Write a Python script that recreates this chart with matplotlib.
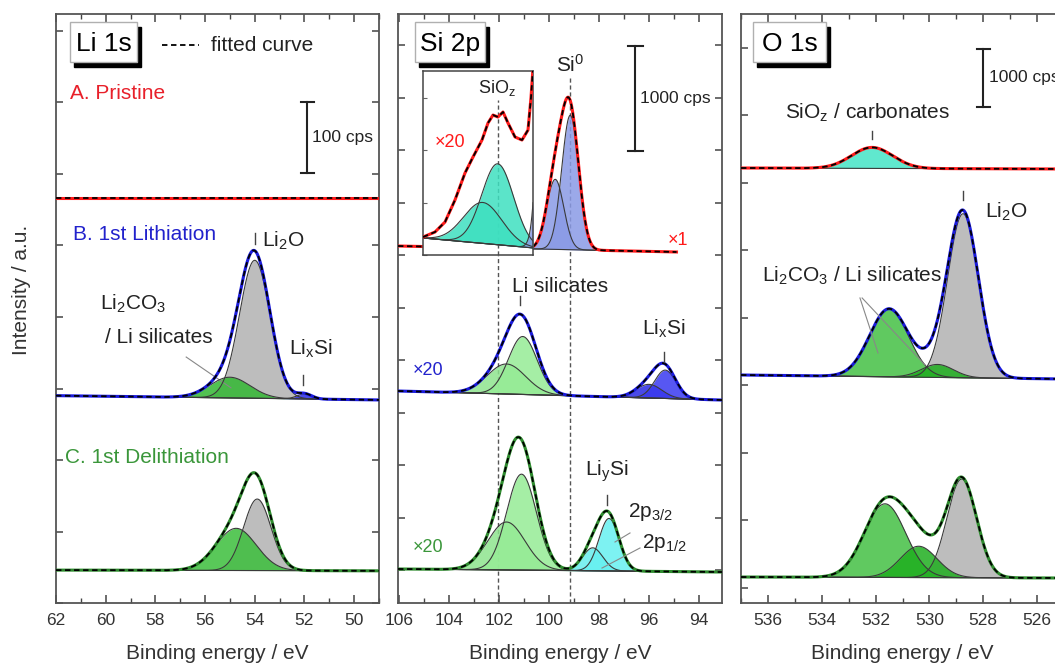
import numpy as np
import matplotlib.pyplot as plt
from matplotlib.patches import Rectangle
from matplotlib.ticker import MultipleLocator

plt.rcParams['font.family'] = ['Liberation Sans', 'DejaVu Sans']
plt.rcParams['mathtext.fontset'] = 'custom'
plt.rcParams['mathtext.rm'] = 'Liberation Sans'
plt.rcParams['mathtext.it'] = 'Liberation Sans:italic'
plt.rcParams['mathtext.bf'] = 'Liberation Sans:bold'

# --- Li 1s (binding energy eV, intensity cps, FWHM eV) ---
li_range = [62.0, 49.0]
li_bg_a = [566, 566]
li_bg_b = [290, 284]
li_bg_c = [46, 45]
li_b_centre = [54.0, 55.0, 52.0]
li_b_height = [193, 29, 7]
li_b_fwhm = [1.45, 1.9, 0.7]
li_c_centre = [53.9, 54.75]
li_c_height = [100, 59]
li_c_fwhm = [1.3, 1.9]

# --- Si 2p ---
si_range = [106.04, 93.08]
si_range_a = [106.04, 94.9]
si_bg_a = [3400, 3343]
si_bg_b = [2019, 1933]
si_bg_c = [324, 295]
si_a_centre = [99.75, 99.15]
si_a_height = [667, 1280]
si_a_fwhm = [0.8, 0.8]
si_b_centre = [101.7, 101.05, 96.0, 95.35]
si_b_height = [286, 552, 130, 270]
si_b_fwhm = [1.8, 1.35, 1.2, 1.0]
si_c_centre = [101.7, 101.1, 98.25, 97.6]
si_c_height = [457, 914, 219, 500]
si_c_fwhm = [1.75, 1.4, 0.95, 0.95]
# x20 inset, pristine SiOz region
si_inset_range = [105.04, 100.64]
si_inset_bg = [162, 67]
si_inset_centre = [102.65, 102.05]
si_inset_height = [390, 771]
si_inset_fwhm = [1.8, 1.5]
si_inset_factor = 20
si_inset_be = [105.04, 104.56, 104.16, 103.76, 103.36, 103.04, 102.68, 102.44,
               102.24, 102.04, 101.84, 101.64, 101.36, 101.08, 100.84, 100.72, 100.64]
si_inset_cps = [171, 219, 314, 524, 781, 933, 1095, 1257,
                1333, 1314, 1362, 1257, 1124, 1095, 1190, 1500, 1780]

# --- O 1s ---
o_range = [537.0, 525.0]
o_bg_a = [7500, 7483]
o_bg_b = [3931, 3862]
o_bg_c = [448, 431]
o_a_centre = [532.13]
o_a_height = [362]
o_a_fwhm = [1.8]
o_b_centre = [528.75, 531.5, 529.7]
o_b_height = [2828, 1172, 224]
o_b_fwhm = [1.35, 1.7, 1.4]
o_c_centre = [528.8, 531.65, 530.4]
o_c_height = [1700, 1270, 540]
o_c_fwhm = [1.3, 1.8, 1.6]

RED, BLUE, GREEN = '#ff1a1a', '#1a1adb', '#2e8b2e'
GREY = '#b2b2b2'
TXT = '#222222'


def gauss(x, c, h, w):
    return h * np.exp(-4 * np.log(2) * ((x - c) / w) ** 2)


def components(ax, be, base, centres, heights, fwhms, fills):
    total = base.copy()
    for c, h, w, col in zip(centres, heights, fwhms, fills):
        peak = gauss(be, c, h, w)
        ax.fill_between(be, base, base + peak, color=col, alpha=0.85, lw=0, zorder=2)
        ax.plot(be, base + peak, color='#3a3a3a', lw=0.8, zorder=2.5)
        total = total + peak
    ax.plot(be, base, color='#3a3a3a', lw=0.8, zorder=2.5)
    return total


def spectrum(ax, span, bg, centres, heights, fwhms, fills, line_color):
    be = np.linspace(span[0], span[1], 800)
    base = np.linspace(bg[0], bg[1], 800)
    total = components(ax, be, base, centres, heights, fwhms, fills)
    ax.plot(be, total, color=line_color, lw=2.2, zorder=3)
    ax.plot(be, total, color='black', lw=1.3, ls=(0, (3, 2)), zorder=4)


def style(ax, span, ytop, ystep, yoff):
    ax.set_xlim(span)
    ax.set_ylim(0, ytop)
    ax.xaxis.set_major_locator(MultipleLocator(2))
    ax.xaxis.set_minor_locator(MultipleLocator(1))
    ax.yaxis.set_major_locator(MultipleLocator(ystep, offset=yoff))
    ax.tick_params(axis='x', which='both', direction='in', top=True, color='#444',
                   labelsize=12.5, pad=7, labelcolor='#333')
    ax.tick_params(axis='x', which='major', length=6, width=1.1)
    ax.tick_params(axis='x', which='minor', length=3.5, width=1.0)
    ax.tick_params(axis='y', direction='in', left=True, right=True, labelleft=False,
                   length=5, width=1.1, color='#444')
    for s in ax.spines.values():
        s.set_color('#555555')
        s.set_linewidth(1.3)
    ax.set_xlabel('Binding energy / eV', fontsize=15, labelpad=12, color='#333')


def core_label(ax, text, x0, x1, wpx):
    y0, y1 = 0.9185, 0.9864
    ax.add_patch(Rectangle((x0 + 4 / wpx, y0 - 5 / 589), x1 - x0, y1 - y0,
                           transform=ax.transAxes, color='black', zorder=6))
    ax.add_patch(Rectangle((x0, y0), x1 - x0, y1 - y0, transform=ax.transAxes,
                           facecolor='white', edgecolor='#b0b0b0', lw=1, zorder=7))
    ax.text((x0 + x1) / 2, (y0 + y1) / 2 - 0.003, text, transform=ax.transAxes,
            ha='center', va='center', fontsize=19, color='black', zorder=8)


def scale_bar(ax, x, y0, y1, half, label):
    ax.plot([x, x], [y0, y1], color=TXT, lw=1.5)
    ax.plot([x - half, x + half], [y0, y0], color=TXT, lw=1.5)
    ax.plot([x - half, x + half], [y1, y1], color=TXT, lw=1.5)
    ax.text(x - 0.2, (y0 + y1) / 2, label, fontsize=12.5, va='center', color=TXT)


def marker(ax, x, y0, y1):
    ax.plot([x, x], [y0, y1], color='#444', lw=1.0, zorder=5)


fig = plt.figure(figsize=(10.55, 6.66), dpi=100)
H = 589 / 666
B0 = 63 / 666
ax1 = fig.add_axes([56 / 1055, B0, 323 / 1055, H])
ax2 = fig.add_axes([398 / 1055, B0, 324 / 1055, H])
ax3 = fig.add_axes([741 / 1055, B0, 323 / 1055, H])

# ---------------- Li 1s ----------------
spectrum(ax1, li_range, li_bg_a, [], [], [], [], RED)
spectrum(ax1, li_range, li_bg_b, li_b_centre, li_b_height, li_b_fwhm,
         [GREY, '#33b833', '#2a2ae6'], BLUE)
spectrum(ax1, li_range, li_bg_c, li_c_centre, li_c_height, li_c_fwhm,
         [GREY, '#3cbf3c'], GREEN)
style(ax1, li_range, 589 / 0.715, 100, 0)
core_label(ax1, 'Li 1s', 0.0433, 0.2508, 323)
ax1.plot([57.72, 56.24], [780, 780], color='black', lw=1.3, ls=(0, (3, 2)))
ax1.text(55.76, 780, 'fitted curve', fontsize=15, va='center', color=TXT)
ax1.text(61.44, 713, 'A. Pristine', fontsize=15, va='center', color='#e8202a')
ax1.text(61.32, 516, 'B. 1st Lithiation', fontsize=15, va='center', color='#2222cc')
ax1.text(61.64, 203, 'C. 1st Delithiation', fontsize=15, va='center', color='#3a963a')
scale_bar(ax1, 51.88, 601, 701, 0.26, '100 cps')
ax1.text(53.72, 507, r'Li$_2$O', fontsize=15, va='center', color=TXT)
marker(ax1, 54.0, 502, 517)
ax1.text(60.24, 419, r'Li$_2$CO$_3$', fontsize=15, va='center', color=TXT)
ax1.text(60.04, 372, '/ Li silicates', fontsize=15, va='center', color=TXT)
ax1.plot([56.76, 54.96], [344, 301], color='#888', lw=0.8)
ax1.text(52.64, 356, r'Li$_\mathrm{x}$Si', fontsize=15, va='center', color=TXT)
marker(ax1, 52.04, 305, 319)

# ---------------- Si 2p ----------------
spectrum(ax2, si_range_a, si_bg_a, si_a_centre, si_a_height, si_a_fwhm,
         ['#8a9ae6', '#8a9ae6'], RED)
spectrum(ax2, si_range, si_bg_b, si_b_centre, si_b_height, si_b_fwhm,
         ['#8ee48e', '#96ec96', '#2a2ae6', '#3a3af0'], BLUE)
spectrum(ax2, si_range, si_bg_c, si_c_centre, si_c_height, si_c_fwhm,
         ['#8ee48e', '#96ec96', '#66eeee', '#66f0f0'], GREEN)
style(ax2, si_range, 589 / 0.105, 500, 310)
core_label(ax2, 'Si 2p', 0.0525, 0.2685, 324)
scale_bar(ax2, 96.56, 4305, 5305, 0.3, '1000 cps')
ax2.vlines(102.04, 0, 3314, colors='#555', lw=1.0, linestyles=(0, (3, 2)), zorder=1)
ax2.vlines(99.16, 0, 5000, colors='#555', lw=1.0, linestyles=(0, (3, 2)), zorder=1)
ax2.text(99.16, 5124, r'Si$^0$', fontsize=15, ha='center', va='center', color=TXT)
ax2.text(95.24, 3457, '×1', fontsize=13, va='center', color=RED)
ax2.text(101.48, 3010, 'Li silicates', fontsize=15, va='center', color=TXT)
marker(ax2, 101.16, 2838, 2924)
ax2.text(105.44, 2219, '×20', fontsize=13, va='center', color='#2222cc')
ax2.text(96.28, 2610, r'Li$_\mathrm{x}$Si', fontsize=15, va='center', color=TXT)
marker(ax2, 95.4, 2295, 2390)
ax2.text(105.44, 533, '×20', fontsize=13, va='center', color='#3a963a')
ax2.text(98.56, 1258, r'Li$_\mathrm{y}$Si', fontsize=15, va='center', color=TXT)
marker(ax2, 97.68, 933, 1029)
ax2.text(96.84, 867, r'2p$_{3/2}$', fontsize=15, va='center', color=TXT)
ax2.text(96.28, 571, r'2p$_{1/2}$', fontsize=15, va='center', color=TXT)
ax2.plot([96.76, 97.36], [667, 581], color='#888', lw=0.8, zorder=5)
ax2.plot([96.36, 97.88], [524, 333], color='#888', lw=0.8, zorder=5)

# x20 inset
ins = fig.add_axes([423 / 1055, (666 - 255) / 666, 110 / 1055, 184 / 666])
ins.set_facecolor('white')
be = np.linspace(si_inset_range[0], si_inset_range[1], 400)
base = np.linspace(si_inset_bg[0], si_inset_bg[1], 400)
components(ins, be, base,
           si_inset_centre + si_a_centre,
           si_inset_height + [h * si_inset_factor for h in si_a_height],
           si_inset_fwhm + si_a_fwhm,
           ['#3ee0c0', '#3ee0c0', '#8a9ae6', '#8a9ae6'])
ins.plot(si_inset_be, si_inset_cps, color=RED, lw=2.2, zorder=3)
ins.plot(si_inset_be, si_inset_cps, color='black', lw=1.3, ls=(0, (3, 2)), zorder=4)
ins.vlines(102.04, 0, 1476, colors='#555', lw=1.0, linestyles=(0, (3, 2)), zorder=1)
ins.text(102.08, 1590, r'SiO$_\mathrm{z}$', fontsize=13, ha='center', va='center', color=TXT)
ins.text(104.56, 1076, '×20', fontsize=13, va='center', color=RED)
ins.set_xlim(si_inset_range)
ins.set_ylim(0, 184 / 0.105)
ins.set_xticks([])
ins.yaxis.set_major_locator(MultipleLocator(500))
ins.tick_params(axis='y', direction='in', length=3, labelleft=False, color='#666')
for s in ins.spines.values():
    s.set_color('#444')
    s.set_linewidth(1.1)

# ---------------- O 1s ----------------
spectrum(ax3, o_range, o_bg_a, o_a_centre, o_a_height, o_a_fwhm, ['#44e4c6'], RED)
spectrum(ax3, o_range, o_bg_b, o_b_centre, o_b_height, o_b_fwhm,
         [GREY, '#44c044', '#1fae1f'], BLUE)
spectrum(ax3, o_range, o_bg_c, o_c_centre, o_c_height, o_c_fwhm,
         [GREY, '#44c044', '#1fae1f'], GREEN)
style(ax3, o_range, 589 / 0.058, 1164, 259)
core_label(ax3, 'O 1s', 0.0372, 0.2632, 323)
scale_bar(ax3, 528.0, 8552, 9552, 0.25, '1000 cps')
ax3.text(535.36, 8448, r'SiO$_\mathrm{z}$ / carbonates', fontsize=15, va='center', color=TXT)
marker(ax3, 532.13, 8000, 8138)
ax3.text(527.93, 6740, r'Li$_2$O', fontsize=15, va='center', color=TXT)
marker(ax3, 528.75, 6948, 7103)
ax3.text(536.22, 5640, r'Li$_2$CO$_3$ / Li silicates', fontsize=15, va='center', color=TXT)
ax3.plot([532.58, 531.91], [5259, 4310], color='#888', lw=0.8, zorder=5)
ax3.plot([532.5, 530.16], [5259, 4103], color='#888', lw=0.8, zorder=5)

fig.text(22 / 1055, 1 - 290 / 666, 'Intensity / a.u.', rotation=90, ha='center',
         va='center', fontsize=15, color='#333')

fig.savefig('out.png', dpi=100)
